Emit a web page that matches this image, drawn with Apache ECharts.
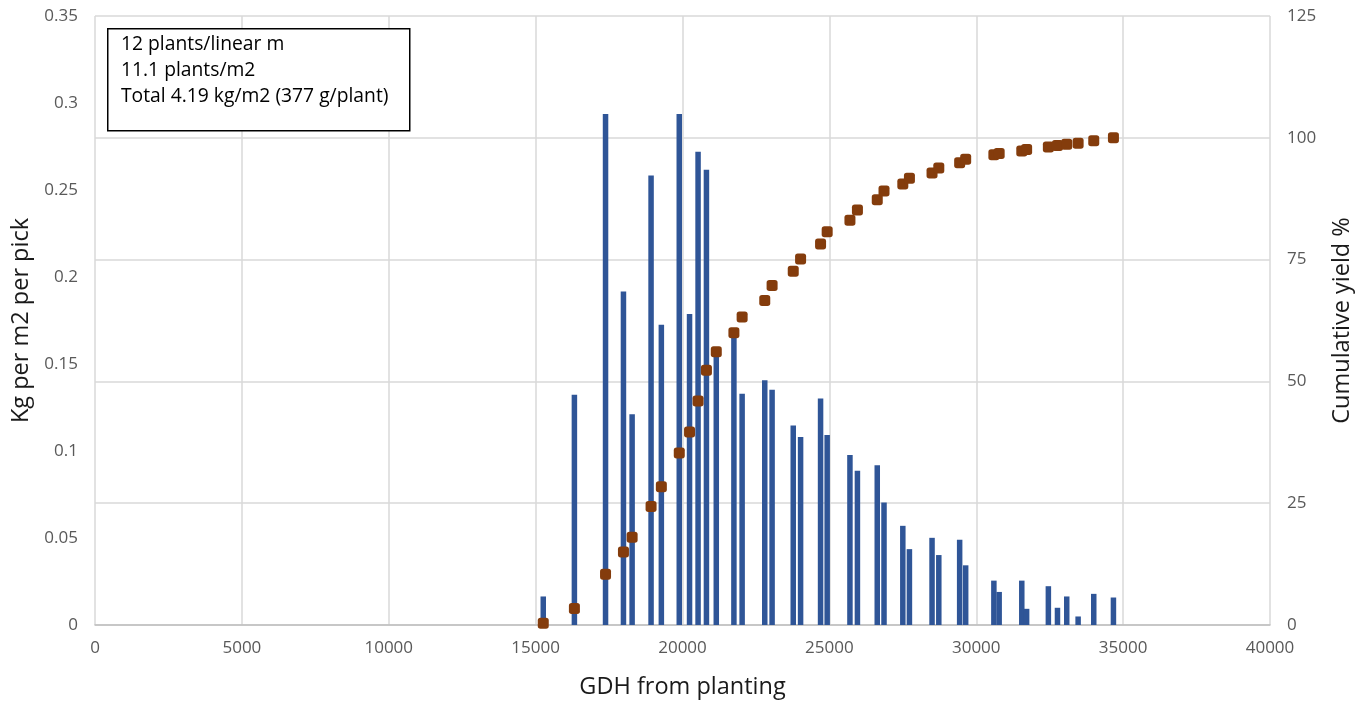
<!DOCTYPE html>
<html>
<head>
<meta charset="utf-8">
<script src="https://cdn.jsdelivr.net/npm/echarts@6/dist/echarts.min.js"></script>
<style>
html,body{margin:0;padding:0;background:#fff;}
#chart{width:1368px;height:702px;}
</style>
</head>
<body>
<div id="chart"></div>
<script>
// GDH (growing degree hours) of each pick
const gdh = [15260, 16320, 17380, 17990, 18285, 18930, 19280, 19890, 20240, 20530,
             20815, 21150, 21750, 22030, 22800, 23050, 23770, 24020, 24700, 24925,
             25700, 25955, 26630, 26860, 27500, 27725, 28495, 28725, 29435, 29640,
             30600, 30780, 31550, 31715, 32455, 32765, 33080, 33468, 34000, 34670];
// Kg per m2 per pick
const kgPerPick = [0.0164, 0.1323, 0.2937, 0.1916, 0.1211, 0.2583, 0.1726, 0.2937, 0.1787, 0.2720,
                   0.2617, 0.1555, 0.1660, 0.1329, 0.1406, 0.1352, 0.1146, 0.1081, 0.1302, 0.1092,
                   0.0977, 0.0886, 0.0918, 0.0704, 0.0570, 0.0436, 0.0501, 0.0402, 0.0490, 0.0343,
                   0.0255, 0.0190, 0.0255, 0.0093, 0.0223, 0.0099, 0.0164, 0.0049, 0.0179, 0.0158];
// Cumulative yield %
const cumYield = [0.35, 3.4, 10.4, 15.0, 18.0, 24.3, 28.4, 35.3, 39.6, 46.0,
                  52.3, 56.1, 60.0, 63.2, 66.6, 69.7, 72.6, 75.1, 78.2, 80.7,
                  83.1, 85.2, 87.3, 89.1, 90.5, 91.7, 92.8, 93.8, 94.9, 95.6,
                  96.5, 96.8, 97.3, 97.6, 98.1, 98.4, 98.7, 98.9, 99.4, 100];
const noteLines = ['12 plants/linear m', '11.1 plants/m2', 'Total 4.19 kg/m2 (377 g/plant)'];

const FONT = 'Open Sans';
const chart = echarts.init(document.getElementById('chart'));
const labelStyle = {color: '#595959', fontSize: 17, fontFamily: FONT};
const nameStyle = {color: '#1a1a1a', fontSize: 23.5, fontFamily: FONT};

chart.setOption({
  animation: false,
  grid: {left: 95, right: 98, top: 16, bottom: 77, containLabel: false, outerBoundsMode: 'none'},
  xAxis: {
    type: 'value', min: 0, max: 40000, interval: 5000,
    name: 'GDH from planting', nameLocation: 'middle', nameGap: 50,
    nameTextStyle: nameStyle,
    axisLine: {show: true, lineStyle: {color: '#bfbfbf', width: 1.5}},
    axisTick: {show: false},
    axisLabel: Object.assign({margin: 15, formatter: v => String(v)}, labelStyle),
    splitLine: {show: true, lineStyle: {color: '#d9d9d9', width: 1.5}}
  },
  yAxis: [{
    type: 'value', min: 0, max: 0.35, interval: 0.05,
    name: 'Kg per m2 per pick', nameLocation: 'middle', nameGap: 60, nameRotate: 90,
    nameTextStyle: nameStyle,
    axisLine: {show: false}, axisTick: {show: false},
    axisLabel: Object.assign({margin: 17}, labelStyle),
    splitLine: {show: false}
  }, {
    type: 'value', min: 0, max: 125, interval: 25, position: 'right',
    name: 'Cumulative yield %', nameLocation: 'middle', nameGap: 60, nameRotate: 90,
    nameTextStyle: nameStyle,
    axisLine: {show: false}, axisTick: {show: false},
    axisLabel: Object.assign({margin: 17}, labelStyle),
    splitLine: {show: true, lineStyle: {color: '#d9d9d9', width: 1.5}}
  }],
  series: [{
    type: 'bar', yAxisIndex: 0, barWidth: 5.5,
    itemStyle: {color: '#2F5597'},
    data: gdh.map((x, i) => [x, kgPerPick[i]]),
    z: 2
  }, {
    type: 'scatter', yAxisIndex: 1, symbol: 'roundRect', symbolSize: 11,
    itemStyle: {color: '#843C0C', opacity: 1},
    data: gdh.map((x, i) => [x, cumYield[i]]),
    z: 3
  }],
  graphic: [{
    type: 'rect', left: 107, top: 28, z: 10,
    shape: {width: 302, height: 102},
    style: {fill: '#fff', stroke: '#000', lineWidth: 1.5}
  }].concat(noteLines.map((t, i) => ({
    type: 'text', left: 121, top: 35 + i * 26, z: 11,
    style: {text: t, fill: '#000', fontSize: 19.3, fontFamily: FONT}
  })))
});
</script>
</body>
</html>
